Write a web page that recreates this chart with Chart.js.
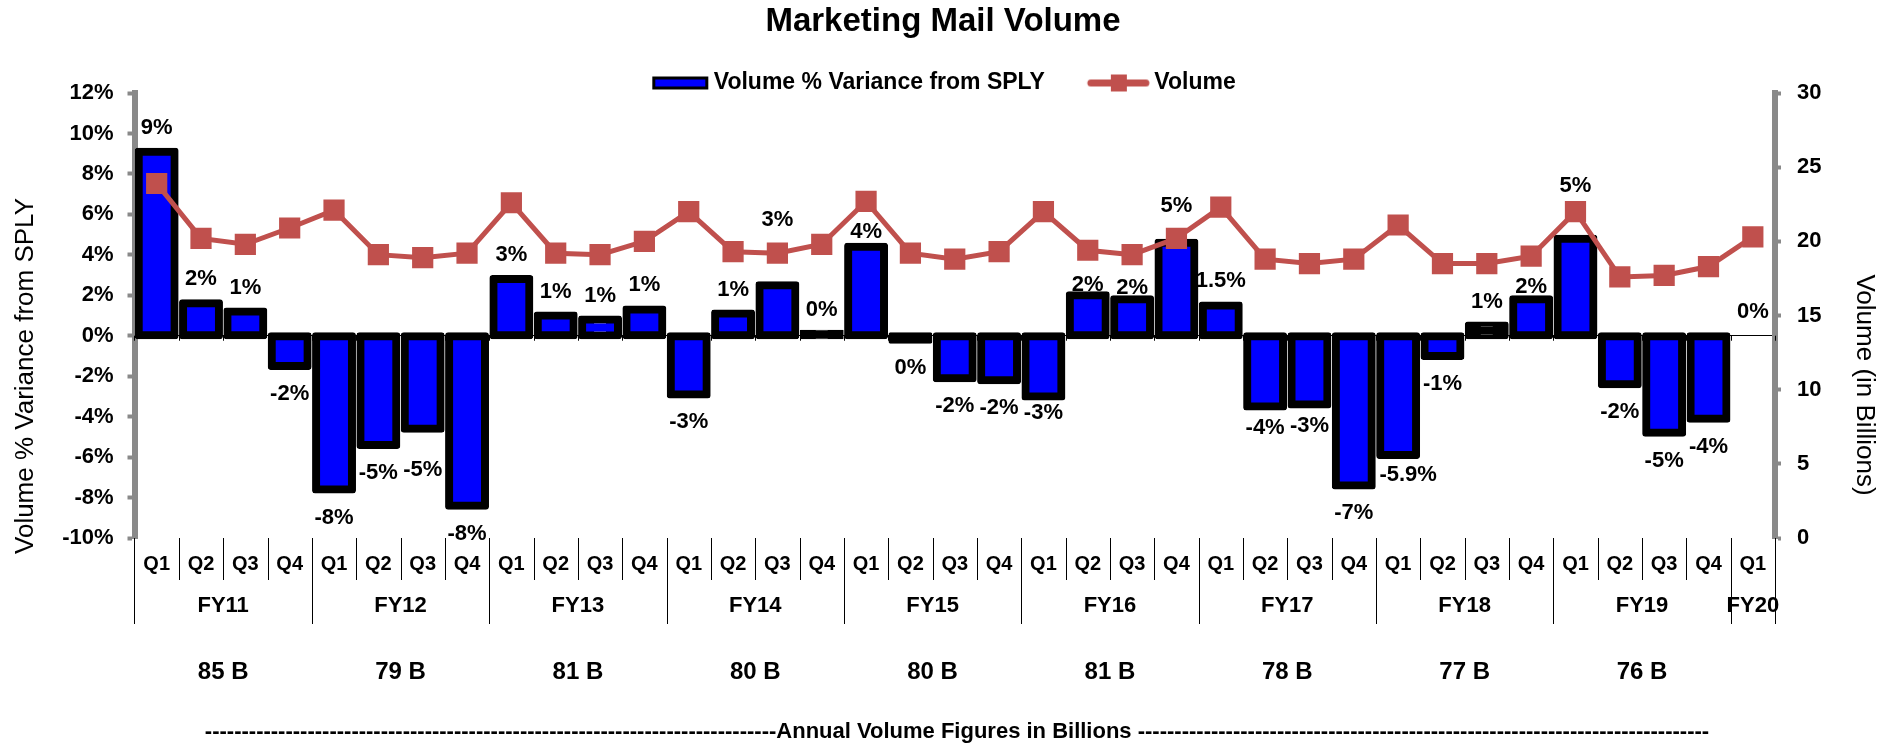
<!DOCTYPE html>
<html>
<head>
<meta charset="utf-8">
<script src="https://cdn.jsdelivr.net/npm/chart.js@4.4.1/dist/chart.umd.min.js"></script>
<style>
  html, body { margin: 0; padding: 0; background: #ffffff; }
  #wrap { width: 1886px; height: 751px; }
</style>
</head>
<body>
<div id="wrap"><canvas id="c" width="1886" height="751"></canvas></div>
<script>
// ---------------- DATA ----------------
const quarterLabels = [
  'Q1','Q2','Q3','Q4', 'Q1','Q2','Q3','Q4', 'Q1','Q2','Q3','Q4',
  'Q1','Q2','Q3','Q4', 'Q1','Q2','Q3','Q4', 'Q1','Q2','Q3','Q4',
  'Q1','Q2','Q3','Q4', 'Q1','Q2','Q3','Q4', 'Q1','Q2','Q3','Q4',
  'Q1'
];
const fiscalYears = ['FY11','FY12','FY13','FY14','FY15','FY16','FY17','FY18','FY19','FY20'];
const annualTotals = ['85 B','79 B','81 B','80 B','80 B','81 B','78 B','77 B','76 B'];

// Volume % variance from same period last year (%)
const variance = [
   9.1,  1.6,  1.2, -1.5,
  -7.6, -5.4, -4.6, -8.4,
   2.8,  1.0,  0.8,  1.3,
  -2.9,  1.1,  2.5,  0.1,
   4.4, -0.2, -2.1, -2.2,
  -3.0,  2.0,  1.8,  4.6,
   1.5, -3.5, -3.4, -7.4,
  -5.9, -1.0,  0.5,  1.8,
   4.8, -2.4, -4.8, -4.1,
   0
];
const varianceLabels = [
  '9%','2%','1%','-2%',
  '-8%','-5%','-5%','-8%',
  '3%','1%','1%','1%',
  '-3%','1%','3%','0%',
  '4%','0%','-2%','-2%',
  '-3%','2%','2%','5%',
  '1.5%','-4%','-3%','-7%',
  '-5.9%','-1%','1%','2%',
  '5%','-2%','-5%','-4%',
  '0%'
];
// Quarterly volume (billions)
const volume = [
  23.9, 20.2, 19.8, 20.9,
  22.1, 19.1, 18.9, 19.2,
  22.6, 19.2, 19.1, 20.0,
  22.0, 19.3, 19.2, 19.8,
  22.7, 19.2, 18.8, 19.3,
  22.0, 19.4, 19.1, 20.2,
  22.3, 18.8, 18.5, 18.8,
  21.1, 18.5, 18.5, 19.0,
  22.0, 17.6, 17.7, 18.3,
  20.3
];
const leftTicks = { min: -10, max: 12, step: 2 };
const rightTicks = { min: 0, max: 30, step: 5 };

// ---------------- STYLE ----------------
const FONT = "'Liberation Sans', Arial, Helvetica, sans-serif";
const BLUE = '#0000FF';
const RED = '#C0504D';
const AXIS_GREY = '#898989';

// Manual label nudges (label placement only, in px)
const labelNudges = {
  6: [0, 13], 14: [0, -41], 16: [0, 9], 20: [0, -11], 21: [0, 14], 22: [0, 13],
  23: [0, -13], 25: [0, -7], 26: [0, -7], 28: [10, -8], 31: [0, 12], 32: [0, -29]
};

Chart.defaults.font.family = FONT;
Chart.defaults.color = '#000';

function makeBarSwatch() {
  const c = document.createElement('canvas');
  c.width = 160; c.height = 24;
  const g = c.getContext('2d');
  g.fillStyle = '#000'; g.fillRect(56, 6, 56, 13);
  g.fillStyle = BLUE; g.fillRect(59, 9, 50, 7);
  return c;
}
function makeLineSwatch() {
  const c = document.createElement('canvas');
  c.width = 160; c.height = 24;
  const g = c.getContext('2d');
  g.strokeStyle = RED; g.lineWidth = 7; g.lineCap = 'round';
  g.beginPath(); g.moveTo(54, 12.5); g.lineTo(109, 12.5); g.stroke();
  g.fillStyle = RED; g.fillRect(74, 4, 16, 17);
  return c;
}
const barSwatch = makeBarSwatch();
const lineSwatch = makeLineSwatch();

const extrasPlugin = {
  id: 'extras',
  afterDraw(chart) {
    const ctx = chart.ctx;
    const xs = chart.scales.x, ys = chart.scales.y;
    const area = chart.chartArea;
    const n = quarterLabels.length;
    const half = (xs.getPixelForValue(1) - xs.getPixelForValue(0)) / 2;
    const zeroY = ys.getPixelForValue(0);
    const bottom = area.bottom;

    ctx.save();
    // category boundary tick marks and separators
    ctx.strokeStyle = '#000';
    ctx.lineWidth = 1;
    for (let i = 0; i <= n; i++) {
      const bx = Math.round((i < n ? xs.getPixelForValue(i) - half : xs.getPixelForValue(n - 1) + half)) + 0.5;
      ctx.beginPath();
      ctx.moveTo(bx, zeroY); ctx.lineTo(bx, zeroY + 5);
      const isFY = (i % 4 === 0) || i === n;
      ctx.moveTo(bx, bottom); ctx.lineTo(bx, bottom + (isFY ? 86 : 42));
      ctx.stroke();
    }

    // fiscal year labels & annual totals
    ctx.fillStyle = '#000';
    ctx.textAlign = 'center';
    ctx.textBaseline = 'middle';
    fiscalYears.forEach((fy, f) => {
      const s = f * 4, e = Math.min(f * 4 + 3, n - 1);
      const cx = (xs.getPixelForValue(s) + xs.getPixelForValue(e)) / 2;
      ctx.font = 'bold 22px ' + FONT;
      ctx.fillText(fy, cx, bottom + 68);
      if (annualTotals[f]) {
        ctx.font = 'bold 24px ' + FONT;
        ctx.fillText(annualTotals[f], cx, bottom + 134);
      }
    });

    // annual caption line
    ctx.font = 'bold 22px ' + FONT;
    const dashes = '-'.repeat(78);
    ctx.fillText(dashes + 'Annual Volume Figures in Billions ' + dashes, 957, bottom + 194);

    // axis titles
    ctx.font = '26px ' + FONT;
    ctx.save();
    ctx.translate(26, 376);
    ctx.rotate(-Math.PI / 2);
    ctx.fillText('Volume % Variance from SPLY', 0, 0);
    ctx.restore();
    ctx.save();
    ctx.translate(1864, 385);
    ctx.rotate(Math.PI / 2);
    ctx.fillText('Volume (in Billions)', 0, 0);
    ctx.restore();

    // data labels on bars
    const meta = chart.getDatasetMeta(0);
    ctx.font = 'bold 22px ' + FONT;
    meta.data.forEach((el, i) => {
      const v = variance[i];
      const nud = labelNudges[i] || [0, 0];
      const ly = (v >= 0 ? el.y - 24 : el.y + 28) + nud[1];
      ctx.fillText(varianceLabels[i], el.x + nud[0], ly);
    });
    ctx.restore();
  }
};

new Chart(document.getElementById('c'), {
  data: {
    labels: quarterLabels,
    datasets: [
      {
        type: 'bar',
        label: 'Volume % Variance from SPLY',
        data: variance,
        yAxisID: 'y',
        // Excel-like outline straddling the bar edge
        backgroundColor: (c) => {
          const v = c.raw;
          if (v === 0) return 'rgba(0,0,0,0)';
          return Math.abs(v) < 0.7 ? '#000' : BLUE;
        },
        borderColor: '#000',
        borderWidth: 8,
        inflateAmount: 4,
        borderSkipped: false,
        borderRadius: 3,
        barPercentage: 0.81,
        categoryPercentage: 1.0,
        order: 1
      },
      {
        type: 'line',
        label: 'Volume',
        data: volume,
        yAxisID: 'y1',
        borderColor: RED,
        borderWidth: 5,
        backgroundColor: RED,
        pointStyle: 'rect',
        pointRadius: 15,
        pointBackgroundColor: RED,
        pointBorderColor: RED,
        pointBorderWidth: 0,
        tension: 0,
        order: 0
      }
    ]
  },
  options: {
    responsive: false,
    animation: false,
    layout: { padding: 0 },
    plugins: {
      tooltip: { enabled: false },
      title: {
        display: true,
        text: 'Marketing Mail Volume',
        color: '#000',
        font: { size: 33, weight: 'bold', family: FONT, lineHeight: 1 },
        padding: { top: 5, bottom: -13 }
      },
      legend: {
        display: true,
        position: 'top',
        maxHeight: 68,
        labels: {
          usePointStyle: true,
          pointStyleWidth: 52,
          padding: 46,
          color: '#000',
          font: { size: 23, weight: 'bold', family: FONT },
          generateLabels() {
            return [
              { text: 'Volume % Variance from SPLY', pointStyle: barSwatch, datasetIndex: 0, hidden: false, lineWidth: 0, fontColor: '#000' },
              { text: 'Volume', pointStyle: lineSwatch, datasetIndex: 1, hidden: false, lineWidth: 0, fontColor: '#000' }
            ];
          }
        }
      }
    },
    scales: {
      x: {
        type: 'category',
        offset: true,
        afterFit(scale) { scale.height = 213; },
        border: { display: false },
        grid: { display: false, drawTicks: false },
        ticks: {
          autoSkip: false, maxRotation: 0, minRotation: 0,
          padding: 14,
          color: '#000',
          font: { size: 20, weight: 'bold', family: FONT }
        }
      },
      y: {
        type: 'linear',
        position: 'left',
        min: leftTicks.min, max: leftTicks.max,
        afterFit(scale) { scale.width = 134.5; },
        border: { display: true, color: AXIS_GREY, width: 6 },
        grid: {
          drawOnChartArea: true,
          drawTicks: true,
          tickLength: 7,
          tickWidth: 4,
          tickColor: AXIS_GREY,
          lineWidth: 1,
          color: (c) => (c.tick && c.tick.value === 0 ? '#000' : 'rgba(0,0,0,0)')
        },
        ticks: {
          stepSize: leftTicks.step,
          padding: 14,
          color: '#000',
          font: { size: 22, weight: 'bold', family: FONT },
          callback: (v) => v + '%'
        }
      },
      y1: {
        type: 'linear',
        position: 'right',
        min: rightTicks.min, max: rightTicks.max,
        afterFit(scale) { scale.width = 111; },
        border: { display: true, color: AXIS_GREY, width: 6 },
        grid: {
          drawOnChartArea: false,
          drawTicks: true,
          tickLength: 6,
          tickWidth: 4,
          tickColor: AXIS_GREY,
          color: AXIS_GREY
        },
        ticks: {
          stepSize: rightTicks.step,
          padding: 16,
          color: '#000',
          font: { size: 22, weight: 'bold', family: FONT }
        }
      }
    }
  },
  plugins: [extrasPlugin]
});
</script>
</body>
</html>
